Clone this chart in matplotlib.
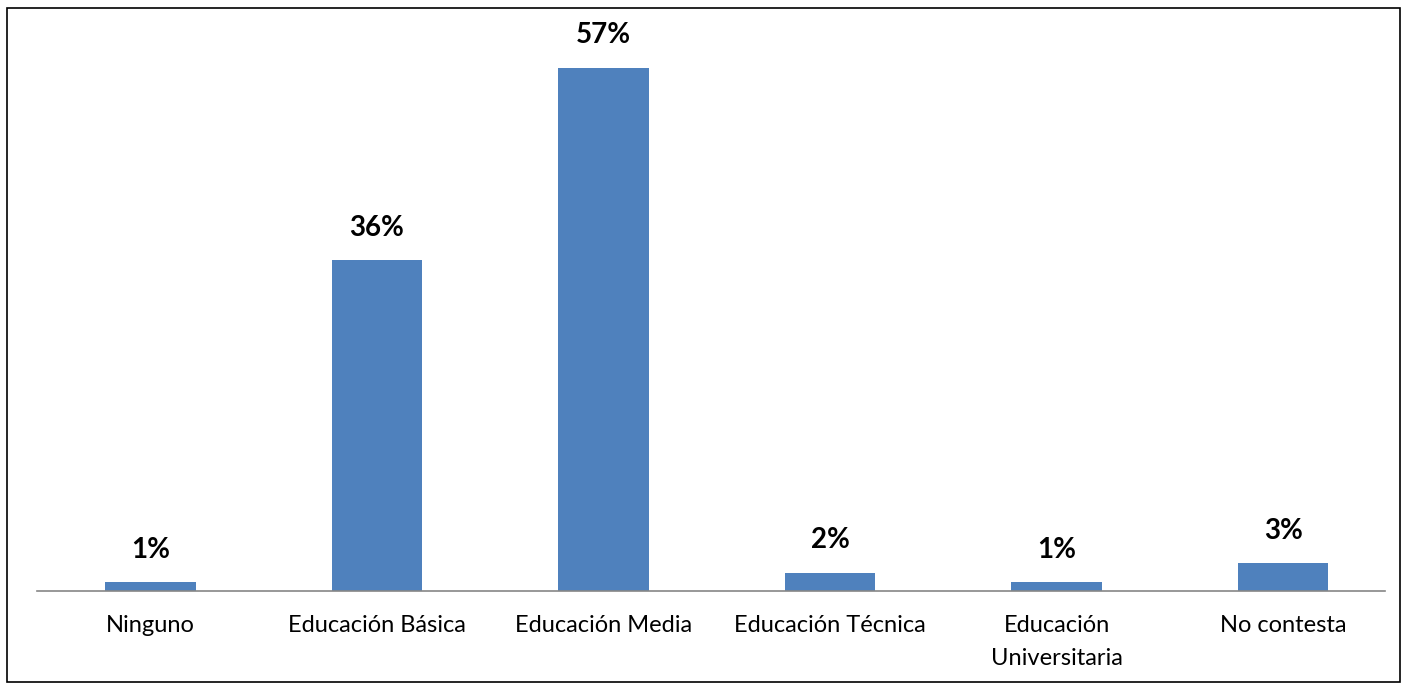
import matplotlib.pyplot as plt
from matplotlib.patches import Rectangle

plt.rcParams['font.family'] = ['Lato', 'DejaVu Sans']

categorias = ["Ninguno", "Educación Básica", "Educación Media", "Educación Técnica",
              "Educación\nUniversitaria", "No contesta"]
porcentajes = [1, 36, 57, 2, 1, 3]
etiquetas = ["1%", "36%", "57%", "2%", "1%", "3%"]

fig = plt.figure(figsize=(14.08, 6.83), dpi=100)
ax = fig.add_axes([0.0263, 0.1347, 0.9574, 0.8067])

x = range(len(categorias))
barras = ax.bar(x, porcentajes, width=0.4, color="#4F81BD")

for b, t in zip(barras, etiquetas):
    ax.text(b.get_x() + b.get_width() / 2, b.get_height() + 2.1, t,
            ha="center", va="bottom", fontsize=20, fontweight="bold", color="black")

ax.set_xlim(-0.5, len(categorias) - 0.55)
ax.set_ylim(0, 60)
ax.set_xticks(list(x))
ax.set_xticklabels(categorias, fontsize=17, linespacing=1.75)
ax.tick_params(axis="x", length=0, pad=17)
ax.set_yticks([])
for s in ["top", "right", "left"]:
    ax.spines[s].set_visible(False)
ax.spines["bottom"].set_color("#868686")
ax.spines["bottom"].set_linewidth(1.2)

# marco alrededor del grafico
fig.patches.append(Rectangle((0.005, 0.002), 0.989, 0.986, transform=fig.transFigure,
                             fill=False, edgecolor="black", linewidth=1.2))

plt.savefig("out.png", dpi=100)
